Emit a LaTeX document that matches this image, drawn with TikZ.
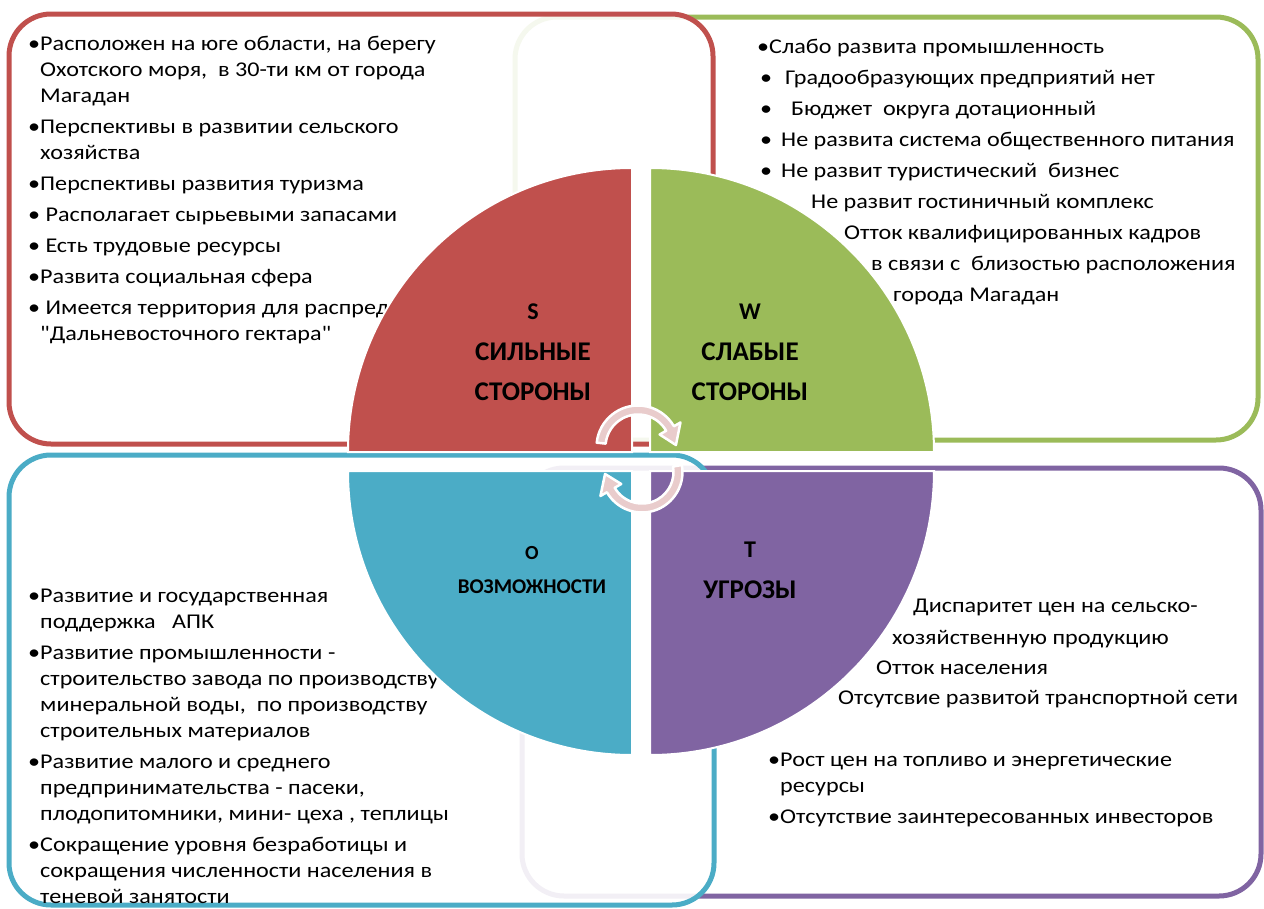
\documentclass[tikz,border=0pt]{standalone}
\usepackage{fontspec}
\setmainfont{Carlito}[Ligatures=TeXOff]
\newfontfamily\listfont{Carlito}[FakeStretch=1.15, Ligatures=TeXOff]
\usetikzlibrary{calc}
\definecolor{swotred}{RGB}{192,80,77}
\definecolor{swotgreen}{RGB}{155,187,89}
\definecolor{swotblue}{RGB}{75,172,198}
\definecolor{swotpurple}{RGB}{128,100,162}
\definecolor{cyclepink}{RGB}{233,204,204}
\newcommand{\bulind}{\hphantom{•}}
\begin{document}
\begin{tikzpicture}[
        x=1bp, y=-1bp,
        framebox/.style={line width=5bp, rounded corners=42bp},
        itemtext/.style={anchor=north west, inner sep=0pt, align=left, font=\listfont\fontsize{21bp}{26bp}\selectfont},
        quarter/.style={draw=white, line width=2bp},
        titletext/.style={align=center, inner sep=0pt, font=\fontsize{27bp}{40bp}\selectfont\bfseries},
        lettertext/.style={inner sep=0pt, font=\fontsize{24bp}{24bp}\selectfont\bfseries},
        cyclearrow/.style={fill=cyclepink, draw=white, line width=2.5bp, line join=round}
    ]
    \useasboundingbox (0,0) rectangle (1264,909);

    % Frames
    \draw[framebox, draw=swotgreen] (515,17) rectangle (1258,440);
    \draw[framebox, draw=swotred, fill=white, fill opacity=0.9] (9,14) rectangle (713,444);
    \draw[framebox, draw=swotpurple] (522,468) rectangle (1261,896);
    \draw[framebox, draw=swotblue, fill=white, fill opacity=0.9] (9,455) rectangle (714,905);

    % Lists
    \node[itemtext] (strengths) at (28,36) {
        •Расположен на юге области, на берегу\\
        \bulind Охотского моря,\ \ в 30-ти км от города\\
        \bulind Магадан\\[5bp]
        •Перспективы в развитии сельского\\
        \bulind хозяйства\\[5bp]
        •Перспективы развития туризма\\[5bp]
        • Располагает сырьевыми запасами\\[5bp]
        • Есть трудовые ресурсы\\[5bp]
        •Развита социальная сфера\\[5bp]
        • Имеется территория для распределения\\
        \bulind "Дальневосточного гектара"
    };
    \node[itemtext] (weaknesses) at (757,39) {
        •Слабо развита промышленность\\[5bp]
        \hspace*{3bp}•\hspace*{13bp}Градообразующих предприятий нет\\[5bp]
        \hspace*{3bp}•\hspace*{19bp}Бюджет\ \ округа дотационный\\[5bp]
        \hspace*{3bp}•\hspace*{9bp}Не развита система общественного питания\\[5bp]
        \hspace*{3bp}•\hspace*{9bp}Не развит туристический\ \ бизнес\\[5bp]
        \hspace*{54bp}Не развит гостиничный комплекс\\[5bp]
        \hspace*{87bp}Отток квалифицированных кадров\\[5bp]
        \hspace*{114bp}в связи с\ \ близостью расположения\\[5bp]
        \hspace*{136bp}города Магадан
    };
    \node[itemtext] (opportunities) at (28,589) {
        •Развитие и государственная\\
        \bulind поддержка\ \ \ АПК\\[5bp]
        •Развитие промышленности -\\
        \bulind строительство завода по производству\\
        \bulind минеральной воды,\ \ по производству\\
        \bulind строительных материалов\\[5bp]
        •Развитие малого и среднего\\
        \bulind предпринимательства - пасеки,\\
        \bulind плодопитомники, мини- цеха , теплицы\\[5bp]
        •Сокращение уровня безработицы и\\
        \bulind сокращения численности населения в\\
        \bulind теневой занятости
    };
    \node[itemtext] (threats) at (768,599) {
        \hspace*{145bp}Диспаритет цен на сельско-\\[6bp]
        \hspace*{124bp}хозяйственную продукцию\\[4bp]
        \hspace*{108bp}Отток населения\\[4bp]
        \hspace*{70bp}Отсутсвие развитой транспортной сети\\[36bp]
        •Рост цен на топливо и энергетические\\
        \bulind ресурсы\\[5bp]
        •Отсутствие заинтересованных инвесторов
    };

    % Quarters of the circle
    \coordinate (s-corner) at (632,452);
    \coordinate (w-corner) at (650,452);
    \coordinate (o-corner) at (632,471);
    \coordinate (t-corner) at (650,471);
    \filldraw[quarter, fill=swotred] (s-corner) -- ++(-284,0) arc[start angle=180, end angle=270, radius=284] -- cycle;
    \filldraw[quarter, fill=swotgreen] (w-corner) -- ++(0,-284) arc[start angle=270, end angle=360, radius=284] -- cycle;
    \filldraw[quarter, fill=swotblue] (o-corner) -- ++(-284,0) arc[start angle=180, end angle=90, radius=284] -- cycle;
    \filldraw[quarter, fill=swotpurple] (t-corner) -- ++(284,0) arc[start angle=0, end angle=90, radius=284] -- cycle;

    % Titles
    \node[lettertext] (s-letter) at (533,312) {S};
    \node[titletext] (s-title) at (533,372) {СИЛЬНЫЕ\\СТОРОНЫ};
    \node[lettertext] (w-letter) at (750,312) {W};
    \node[titletext] (w-title) at (750,372) {СЛАБЫЕ\\СТОРОНЫ};
    \node[lettertext, font=\fontsize{20bp}{20bp}\selectfont\bfseries] (o-letter) at (532,553) {О};
    \node[titletext, font=\fontsize{21bp}{21bp}\selectfont\bfseries] (o-title) at (532,587) {ВОЗМОЖНОСТИ};
    \node[lettertext] (t-letter) at (750,550) {Т};
    \node[titletext] (t-title) at (750,590) {УГРОЗЫ};

    % Cycle arrows
    \coordinate (upper) at (638,447);
    \coordinate (lower) at (642,472);
    \filldraw[cyclearrow] ($(upper)+(-174:41.5)$) arc[start angle=-174, end angle=-30, radius=41.5]
        -- ($(upper)+(-30:49)$) -- ($(upper)+(-3:38)$) -- ($(upper)+(-30:25)$) -- ($(upper)+(-30:32.5)$)
        arc[start angle=-30, end angle=-174, radius=32.5] -- cycle;
    \filldraw[cyclearrow] ($(lower)+(-10:40.5)$) arc[start angle=-10, end angle=150, radius=40.5]
        -- ($(lower)+(150:48)$) -- ($(lower)+(177:37)$) -- ($(lower)+(150:24)$) -- ($(lower)+(150:31.5)$)
        arc[start angle=150, end angle=-10, radius=31.5] -- cycle;

\end{tikzpicture}
\end{document}
